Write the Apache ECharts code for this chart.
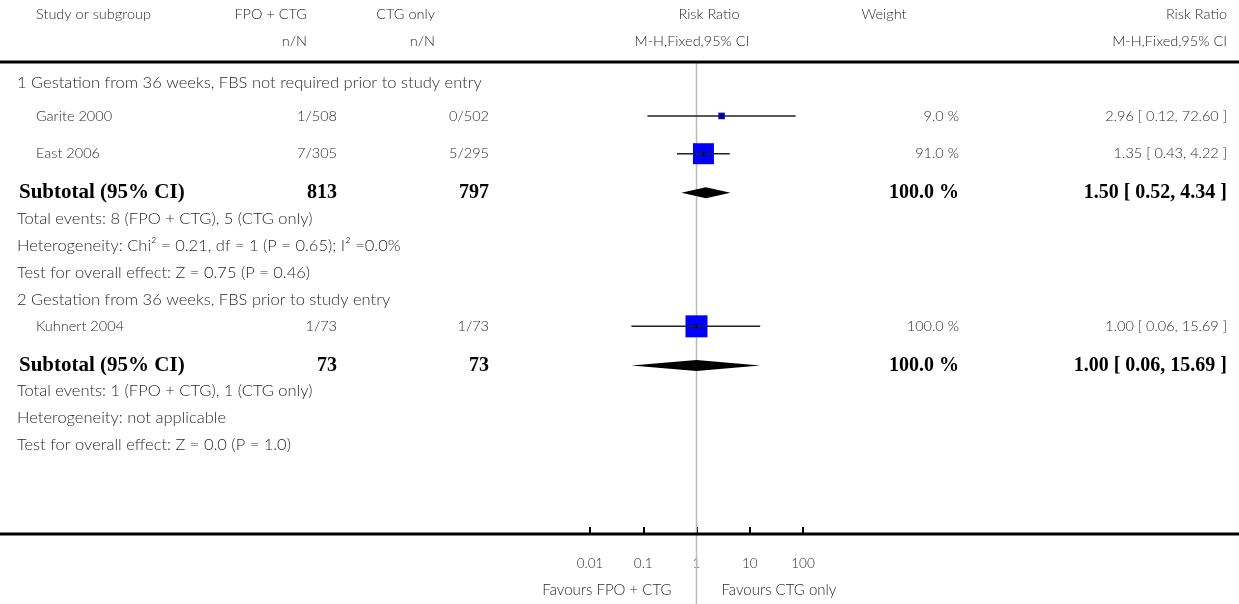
<!DOCTYPE html>
<html><head><meta charset="utf-8">
<script src="https://cdn.jsdelivr.net/npm/echarts@6/dist/echarts.min.js"></script>
<style>html,body{margin:0;padding:0;background:#fff}#c{width:1239px;height:604px}</style>
</head><body><div id="c"></div>
<script>
// ---- data ----
const tickValues = [0.01, 0.1, 1, 10, 100];
const tickLabels = ['0.01', '0.1', '1', '10', '100'];
const headerTop = ['Study or subgroup', 'FPO + CTG', 'CTG only', 'Risk Ratio', 'Weight', 'Risk Ratio'];
const headerSub = ['', 'n/N', 'n/N', 'M-H,Fixed,95% CI', '', 'M-H,Fixed,95% CI'];
const headerRow = [-1.75, -0.75];
const groupTitles = ['1 Gestation from 36 weeks, FBS not required prior to study entry', '2 Gestation from 36 weeks, FBS prior to study entry'];
const groupRow = [0.75, 8.8];
const studies = ['Garite 2000', 'East 2006', 'Kuhnert 2004'];
const studyRow = [2, 3.4, 9.8];
const expEvents = ['1/508', '7/305', '1/73'];
const ctlEvents = ['0/502', '5/295', '1/73'];
const studyRR = [2.96, 1.35, 1.00];
const studyLo = [0.12, 0.43, 0.06];
const studyHi = [72.60, 4.22, 15.69];
const studyWeight = [9.0, 91.0, 100.0];
const subtotalLabel = 'Subtotal (95% CI)';
const subtotalRow = [4.85, 11.25];
const subtotalExpN = [813, 73];
const subtotalCtlN = [797, 73];
const subtotalRR = [1.50, 1.00];
const subtotalLo = [0.52, 0.06];
const subtotalHi = [4.34, 15.69];
const subtotalWeight = [100.0, 100.0];
const noteLines = [
  'Total events: 8 (FPO + CTG), 5 (CTG only)',
  'Heterogeneity: Chi\u00B2 = 0.21, df = 1 (P = 0.65); I\u00B2 =0.0%',
  'Test for overall effect: Z = 0.75 (P = 0.46)',
  'Total events: 1 (FPO + CTG), 1 (CTG only)',
  'Heterogeneity: not applicable',
  'Test for overall effect: Z = 0.0 (P = 1.0)'
];
const noteRow = [5.8, 6.8, 7.8, 12.2, 13.2, 14.2];
const favoursLeft = 'Favours FPO + CTG';
const favoursRight = 'Favours CTG only';

// ---- chart ----
const FONT = 'Lato';
const TXT = '#2a2a2a';
const chart = echarts.init(document.getElementById('c'), null, {renderer: 'canvas'});
const fmtRR = (r, l, h) => `${r.toFixed(2)} [ ${l.toFixed(2)}, ${h.toFixed(2)} ]`;

const studyData = studyRR.map((r, i) => [r, studyRow[i], studyLo[i], studyHi[i], studyWeight[i]]);
const subtotalData = subtotalRR.map((r, i) => [r, subtotalRow[i], subtotalLo[i], subtotalHi[i]]);

chart.setOption({
  animation: false,
  grid: {left: 590, right: 436, top: 62, bottom: 70},
  xAxis: {
    type: 'log', logBase: 10, min: tickValues[0], max: tickValues[tickValues.length - 1],
    position: 'bottom',
    axisLine: {show: false, onZero: false},
    axisTick: {show: true, inside: true, length: 7, lineStyle: {color: '#000', width: 2}},
    splitLine: {show: false},
    axisLabel: {
      margin: 23, fontSize: 13.5, color: TXT, fontFamily: FONT, fontWeight: 300,
      formatter: v => {
        const i = tickValues.findIndex(t => Math.abs(Math.log10(t) - Math.log10(v)) < 1e-6);
        return i >= 0 ? tickLabels[i] : '';
      }
    }
  },
  yAxis: {type: 'value', inverse: true, min: 0, max: 17.5, show: false},
  series: [
    {
      type: 'custom', z: 3, data: studyData,
      renderItem: (params, api) => {
        const y = api.value(1);
        const c = api.coord([api.value(0), y]);
        const l = api.coord([api.value(2), y]);
        const h = api.coord([api.value(3), y]);
        const s = 22 * Math.sqrt(api.value(4) / 100);
        return {type: 'group', children: [
          {type: 'rect', shape: {x: c[0] - s / 2, y: c[1] - s / 2, width: s, height: s}, style: {fill: '#0000ff'}},
          {type: 'line', shape: {x1: l[0], y1: c[1], x2: h[0], y2: c[1]}, style: {stroke: '#222', lineWidth: 1.5}},
          {type: 'line', shape: {x1: c[0], y1: c[1] - 2.5, x2: c[0], y2: c[1] + 2.5}, style: {stroke: '#000', lineWidth: 1.5}}
        ]};
      }
    },
    {
      type: 'custom', z: 3, data: subtotalData,
      renderItem: (params, api) => {
        const y = api.value(1);
        const c = api.coord([api.value(0), y]);
        const l = api.coord([api.value(2), y]);
        const h = api.coord([api.value(3), y]);
        const hh = 5.5;
        return {type: 'polygon', shape: {points: [[l[0], c[1]], [c[0], c[1] - hh], [h[0], c[1]], [c[0], c[1] + hh]]}, style: {fill: '#000'}};
      }
    }
  ]
});

// ---- table text & rules via graphic, positioned with the axes ----
const py = r => chart.convertToPixel({yAxisIndex: 0}, r);
const px = v => chart.convertToPixel({xAxisIndex: 0}, v);
const els = [];
function txt(s, x, y, align, opt) {
  opt = opt || {};
  els.push({type: 'text', x: x, y: y, z: 5, silent: true, style: {
    text: s, fill: opt.bold ? '#000' : TXT, align: align, verticalAlign: 'middle',
    font: opt.bold ? `bold ${opt.bsize || 20}px "Liberation Serif", serif` : `300 ${opt.size || 16.5}px ${FONT}, sans-serif`
  }});
}
const W = chart.getWidth(), H = chart.getHeight();
const yTop = py(0), yBot = py(17.5), x1 = px(1);
// rules
els.push({type: 'line', z: 4, shape: {x1: 0, y1: yTop, x2: W, y2: yTop}, style: {stroke: '#000', lineWidth: 3}});
els.push({type: 'line', z: 4, shape: {x1: 0, y1: yBot, x2: W, y2: yBot}, style: {stroke: '#000', lineWidth: 3}});
els.push({type: 'line', z: 1, shape: {x1: x1, y1: yTop, x2: x1, y2: H}, style: {stroke: '#bbb', lineWidth: 1.5}});

// column anchors
const colX = {name: 36, sec: 17, exp: 337, ctl: 489, expH: 307, ctlH: 435, w: 959, wH: 884, rr: 1227};
const HS = {size: 14.5};
// headers
const h0 = py(headerRow[0]), h1 = py(headerRow[1]);
txt(headerTop[0], colX.name, h0, 'left', HS);
txt(headerTop[1], colX.expH, h0, 'right', HS);
txt(headerTop[2], colX.ctlH, h0, 'right', HS);
txt(headerTop[3], 709, h0, 'center', HS);
txt(headerTop[4], colX.wH, h0, 'center', HS);
txt(headerTop[5], colX.rr, h0, 'right', HS);
txt(headerSub[1], colX.expH, h1, 'right', HS);
txt(headerSub[2], colX.ctlH, h1, 'right', HS);
txt(headerSub[3], 692, h1, 'center', HS);
txt(headerSub[5], colX.rr, h1, 'right', HS);
// groups
groupTitles.forEach((g, i) => txt(g, colX.sec, py(groupRow[i]), 'left'));
// studies
studies.forEach((s, i) => {
  const y = py(studyRow[i]);
  txt(s, colX.name, y, 'left', HS);
  txt(expEvents[i], colX.exp, y, 'right', HS);
  txt(ctlEvents[i], colX.ctl, y, 'right', HS);
  txt(studyWeight[i].toFixed(1) + ' %', colX.w, y, 'right', HS);
  txt(fmtRR(studyRR[i], studyLo[i], studyHi[i]), colX.rr, y, 'right', HS);
});
// subtotals
subtotalRow.forEach((r, i) => {
  const y = py(r);
  txt(subtotalLabel, colX.sec + 2, y, 'left', {bold: true, bsize: 21});
  txt(String(subtotalExpN[i]), colX.exp, y, 'right', {bold: true});
  txt(String(subtotalCtlN[i]), colX.ctl, y, 'right', {bold: true});
  txt(subtotalWeight[i].toFixed(1) + ' %', colX.w, y, 'right', {bold: true});
  txt(fmtRR(subtotalRR[i], subtotalLo[i], subtotalHi[i]), colX.rr, y, 'right', {bold: true});
});
// notes
noteLines.forEach((n, i) => txt(n, colX.sec, py(noteRow[i]), 'left'));
// favours
txt(favoursLeft, x1 - 25, 590, 'right', {size: 15});
txt(favoursRight, x1 + 25, 590, 'left', {size: 15});

chart.setOption({graphic: {elements: els}});
</script>
</body></html>
